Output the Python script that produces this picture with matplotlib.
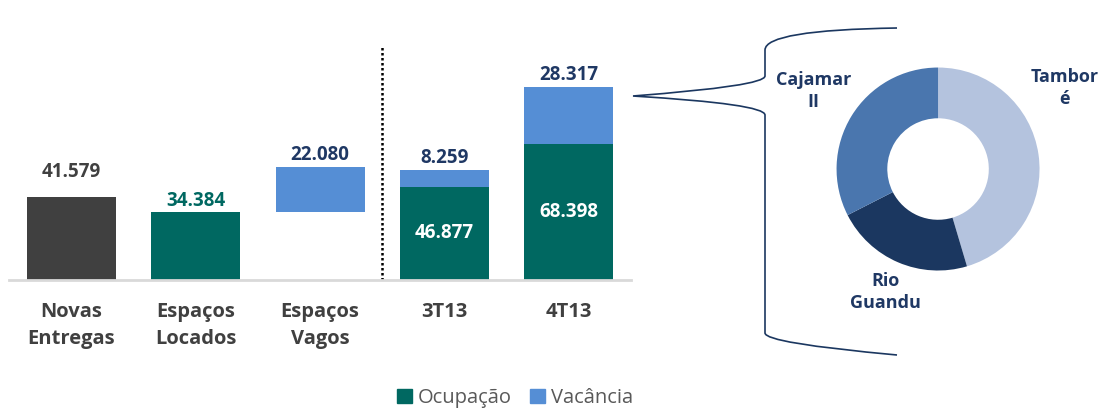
import numpy as np
import matplotlib.pyplot as plt
from matplotlib.path import Path
from matplotlib.patches import PathPatch, Patch

plt.rcParams['font.family'] = ['Open Sans', 'DejaVu Sans']

# bar data
categorias = ['Novas\nEntregas', 'Espaços\nLocados', 'Espaços\nVagos', '3T13', '4T13']
novas_entregas = 41579
espacos_locados = 34384
espacos_vagos = 22080
trimestres = ['3T13', '4T13']
ocupacao = [46877, 68398]
vacancia = [8259, 28317]

# donut data (share of vacant area)
regioes = ['Tamboré', 'Rio Guandu', 'Cajamar II']
participacao = [0.454, 0.221, 0.325]

cinza = '#404040'
verde = '#006861'
azul = '#558ED5'
marinho = '#1F3864'
cores_donut = ['#B4C3DE', '#1B3760', '#4A76AE']

fig = plt.figure(figsize=(11.01, 4.12), dpi=100)
ax = fig.add_axes([0.0082, 0.320, 0.5650, 0.5668])

x = np.arange(len(categorias))
w = 0.715
fs = 13.5

ax.bar(x[0], novas_entregas, w, color=cinza)
ax.bar(x[1], espacos_locados, w, color=verde)
ax.bar(x[2], espacos_vagos, w, bottom=espacos_locados, color=azul)
ax.bar(x[3:], ocupacao, w, color=verde)
ax.bar(x[3:], vacancia, w, bottom=ocupacao, color=azul)

def fmt(v):
    return '{:,}'.format(v).replace(',', '.')

ax.text(x[0], novas_entregas + 7500, fmt(novas_entregas), ha='center', va='bottom',
        fontsize=fs, fontweight='bold', color=cinza)
ax.text(x[1], espacos_locados + 200, fmt(espacos_locados), ha='center', va='bottom',
        fontsize=fs, fontweight='bold', color=verde)
ax.text(x[2], espacos_locados + espacos_vagos + 1200, fmt(espacos_vagos), ha='center', va='bottom',
        fontsize=fs, fontweight='bold', color=marinho)
for i in range(2):
    tot = ocupacao[i] + vacancia[i]
    ax.text(x[3 + i], tot + 1200, fmt(vacancia[i]), ha='center', va='bottom',
            fontsize=fs, fontweight='bold', color=marinho)
    ax.text(x[3 + i], ocupacao[i] / 2, fmt(ocupacao[i]), ha='center', va='center',
            fontsize=fs, fontweight='bold', color='white')

ax.set_xlim(-0.5, len(categorias) - 0.5)
ax.set_ylim(0, 117000)
ax.set_xticks(x)
ax.set_xticklabels(categorias, fontsize=14.5, fontweight='bold', color=cinza, linespacing=1.45)
ax.tick_params(axis='x', length=0, pad=16)
ax.set_yticks([])
for s in ['top', 'right', 'left']:
    ax.spines[s].set_visible(False)
ax.spines['bottom'].set_color('#D9D9D9')
ax.spines['bottom'].set_linewidth(2)
ax.axvline(2.5, ymin=0, ymax=1, color='black', linestyle=(0, (1, 1)), linewidth=1.8)

# donut
axp = fig.add_axes([0.7598, 0.3434, 0.1844, 0.4927])
axp.pie(participacao, colors=cores_donut, startangle=90, counterclock=False,
        radius=1, wedgeprops=dict(width=0.5, edgecolor='none'))
axp.set_xlim(-1, 1)
axp.set_ylim(-1, 1)
axp.set_aspect('equal')
lab = dict(ha='center', va='center', fontsize=13, fontweight='bold', color=marinho, linespacing=1.3)
axp.text(1.25, 0.80, 'Tambor\né', **lab)
axp.text(-0.52, -1.21, 'Rio\nGuandu', **lab)
axp.text(-1.23, 0.77, 'Cajamar\nII', **lab)
for t in axp.texts:
    t.set_clip_on(False)

# brace linking 4T13 vacancy to the donut
ov = fig.add_axes([0, 0, 1, 1])
ov.set_xlim(0, 1101)
ov.set_ylim(412, 0)
ov.axis('off')
pts = [(897, 28), (765, 30), (765, 50), (765, 76), (765, 86), (633, 96),
       (765, 104), (765, 115), (765, 333), (765, 343), (897, 355)]
codes = [Path.MOVETO, Path.CURVE3, Path.CURVE3, Path.LINETO, Path.CURVE3, Path.CURVE3,
         Path.CURVE3, Path.CURVE3, Path.LINETO, Path.CURVE3, Path.CURVE3]
ov.add_patch(PathPatch(Path(pts, codes), facecolor='none', edgecolor='#1B3760', linewidth=1.2))

handles = [Patch(color=verde, label='Ocupação'), Patch(color=azul, label='Vacância')]
fig.legend(handles=handles, loc='center', bbox_to_anchor=(0.468, 0.034), ncol=2, frameon=False,
           fontsize=14.5, handlelength=0.75, handleheight=0.75, handletextpad=0.3, columnspacing=0.9,
           labelcolor='#595959')

fig.savefig('out.png', dpi=100)
